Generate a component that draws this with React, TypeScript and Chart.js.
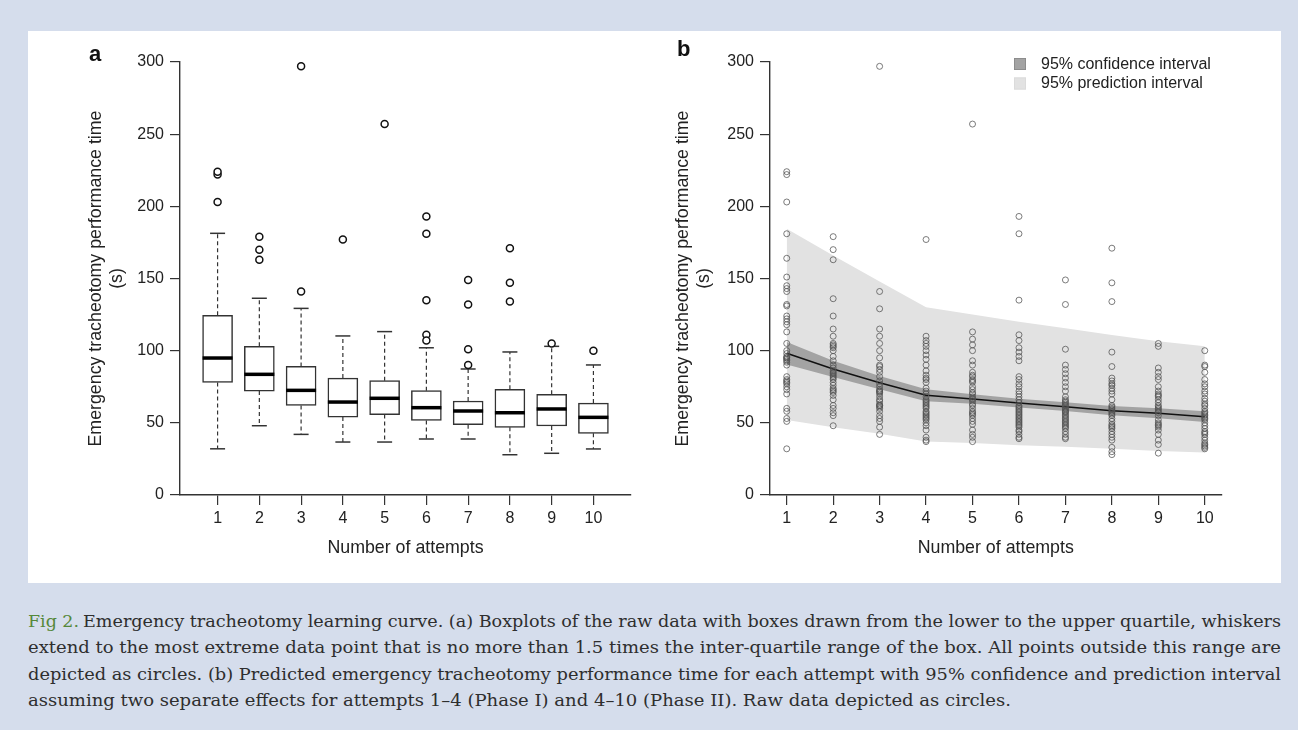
import React, { useEffect, useRef } from 'react';
import { Chart, registerables } from 'chart.js';

Chart.register(...registerables);

// ---------- data ----------
const attempts = [1, 2, 3, 4, 5, 6, 7, 8, 9, 10];
const yTickValues = [0, 50, 100, 150, 200, 250, 300];
const yTitle = ['Emergency tracheotomy performance time', '(s)'];
const xTitle = 'Number of attempts';

// Panel a: boxplot statistics
const boxQ1 = [78, 72, 62, 54, 55.7, 51.7, 48.7, 46.9, 47.8, 42.7];
const boxMedian = [94.9, 83.6, 72.5, 64.4, 67, 60.5, 58.2, 57, 59.6, 53.8];
const boxQ3 = [124.5, 103, 89.1, 81, 79.2, 72.3, 65.1, 73.2, 69.8, 63.7];
const whiskerLow = [32, 48, 42, 36.7, 36.7, 38.8, 38.8, 27.9, 28.9, 31.9];
const whiskerHigh = [181.3, 136.3, 129.3, 110.2, 113.2, 102, 87.3, 99.1, 103, 90.1];
const outliers = [
  [203, 222, 224],
  [179, 170, 163],
  [297, 141],
  [177],
  [257],
  [193, 181, 135, 111, 107],
  [149, 132, 101, 90],
  [171, 147, 134],
  [105],
  [100],
];

// Panel b: model fit and intervals
const fitLine = [98.2, 87.3, 77.8, 69.1, 66.5, 63.7, 61.2, 58.4, 56.6, 54.3];
const ciUpper = [106, 93, 82.5, 73.3, 69.8, 66.7, 64.2, 61.6, 60.1, 58.1];
const ciLower = [90.5, 81.8, 73.3, 64.9, 63.2, 60.7, 58.2, 55.2, 53.1, 50.5];
const piUpper = [184.5, 166, 148, 130, 125, 120, 115.5, 110.8, 106.5, 103];
const piLower = [52, 47, 42.5, 37, 36, 34.5, 33.5, 32, 30.5, 29.5];
const ciLabel = '95% confidence interval';
const piLabel = '95% prediction interval';

// Panel b: raw data per attempt
const rawAttempt1 = [224, 222, 203, 181, 164, 151, 145, 143, 141, 132, 131, 124, 122, 120, 118, 113, 105, 100, 98, 96, 95, 95, 94, 93, 92, 90, 82, 80, 79, 78, 77, 75, 73, 70, 60, 58, 53, 51, 32];
const rawAttempt2 = [179, 170, 163, 136, 124, 115, 110, 105, 104, 103, 102, 100, 96, 93, 90, 88, 86, 85, 84, 83, 82, 81, 80, 78, 76, 74, 73, 72, 71, 69, 66, 62, 60, 57, 55, 48];
const rawAttempt3 = [297, 141, 129, 115, 110, 105, 100, 95, 90, 89, 87, 85, 82, 79, 77, 75, 73, 72, 72, 71, 70, 68, 66, 65, 63, 62, 62, 61, 60, 58, 55, 53, 51, 47, 42];
const rawAttempt4 = [177, 110, 107, 105, 103, 100, 97, 94, 90, 86, 83, 81, 80, 78, 74, 72, 70, 68, 66, 65, 64, 63, 62, 61, 60, 58, 57, 56, 55, 54, 53, 52, 50, 48, 45, 40, 38, 37];
const rawAttempt5 = [257, 113, 108, 104, 100, 93, 90, 85, 83, 82, 80, 79, 78, 75, 73, 71, 70, 68, 67, 66, 65, 63, 62, 60, 58, 57, 56, 55, 53, 51, 49, 45, 42, 40, 37];
const rawAttempt6 = [193, 181, 135, 111, 107, 102, 99, 96, 93, 82, 80, 77, 75, 72, 70, 68, 66, 64, 62, 61, 60, 59, 58, 57, 56, 55, 54, 53, 52, 51, 50, 49, 48, 47, 45, 44, 42, 40, 39];
const rawAttempt7 = [149, 132, 101, 90, 87, 84, 81, 78, 75, 72, 68, 66, 65, 64, 63, 62, 61, 60, 59, 58, 58, 57, 56, 55, 54, 53, 52, 51, 50, 49, 48, 47, 46, 44, 42, 40, 39];
const rawAttempt8 = [171, 147, 134, 99, 89, 81, 79, 77, 76, 74, 72, 70, 66, 62, 61, 60, 59, 58, 57, 56, 55, 53, 51, 49, 48, 47, 46, 44, 42, 40, 38, 33, 30, 28];
const rawAttempt9 = [105, 103, 88, 85, 82, 80, 75, 72, 70, 69, 68, 66, 64, 62, 61, 60, 59, 58, 57, 55, 52, 50, 49, 48, 47, 45, 42, 38, 35, 29];
const rawAttempt10 = [100, 90, 89, 85, 80, 77, 75, 72, 70, 67, 65, 63, 62, 60, 58, 57, 56, 55, 54, 53, 52, 50, 48, 46, 44, 43, 42, 40, 38, 36, 35, 34, 33, 32];
const rawData = [rawAttempt1, rawAttempt2, rawAttempt3, rawAttempt4, rawAttempt5, rawAttempt6, rawAttempt7, rawAttempt8, rawAttempt9, rawAttempt10];

const captionPrefix = 'Fig 2.';
const captionLines = [
  'Emergency tracheotomy learning curve. (a) Boxplots of the raw data with boxes drawn from the lower to the upper quartile, whiskers',
  'extend to the most extreme data point that is no more than 1.5 times the inter-quartile range of the box. All points outside this range are',
  'depicted as circles. (b) Predicted emergency tracheotomy performance time for each attempt with 95% confidence and prediction interval',
  'assuming two separate effects for attempts 1\u20134 (Phase I) and 4\u201310 (Phase II). Raw data depicted as circles.',
];

// ---------- styling helpers ----------
const FONT = '"Liberation Sans", Arial, Helvetica, sans-serif';
const SERIF = '"DejaVu Serif", "Liberation Serif", serif';
const AXIS_COLOR = '#333';
const TEXT_COLOR = '#222';
// caption layout: [x start, width] per line
const captionBoxes = [
  [83, 1198],
  [28, 1253],
  [28, 1253],
  [28, 983],
];

function yAxis(width: number) {
  return {
    type: 'linear',
    position: 'left',
    min: 0,
    max: 300,
    afterBuildTicks: (s: any) => {
      s.ticks = yTickValues.map((v) => ({ value: v }));
    },
    afterFit: (s: any) => {
      s.width = width;
    },
    grid: { display: true, drawOnChartArea: false, drawTicks: true, tickLength: 10, color: AXIS_COLOR, lineWidth: 1.2 },
    border: { display: true, color: AXIS_COLOR, width: 1.4 },
    ticks: { padding: 6, color: TEXT_COLOR, font: { family: FONT, size: 16 } },
    title: {
      display: true,
      text: yTitle,
      color: TEXT_COLOR,
      font: { family: FONT, size: 17.8 },
      padding: { top: 7.3, bottom: 0 },
    },
  };
}

function xAxis(min: number, max: number) {
  return {
    type: 'linear',
    position: 'bottom',
    min,
    max,
    offset: false,
    afterBuildTicks: (s: any) => {
      s.ticks = attempts.map((v) => ({ value: v }));
    },
    afterFit: (s: any) => {
      s.height = 68;
    },
    grid: { display: true, drawOnChartArea: false, drawTicks: true, tickLength: 10, color: AXIS_COLOR, lineWidth: 1.2, offset: false },
    border: { display: true, color: AXIS_COLOR, width: 1.4 },
    ticks: { padding: 4, color: TEXT_COLOR, autoSkip: false, maxRotation: 0, font: { family: FONT, size: 16 } },
    title: {
      display: true,
      text: xTitle,
      color: TEXT_COLOR,
      font: { family: FONT, size: 17.8 },
      padding: { top: 0, bottom: 4.5 },
    },
  };
}

const legendPlugin = {
  id: 'bandLegend',
  afterDraw(chart: any) {
    const ctx = chart.ctx;
    const items = chart.data.datasets.filter((d: any) => d.fill === '+1');
    const x0 = 364;
    const y0 = 27;
    const step = 19.5;
    ctx.save();
    items.forEach((d: any, i: number) => {
      const y = y0 + i * step;
      ctx.fillStyle = d.backgroundColor;
      ctx.fillRect(x0, y, 12, 12);
      ctx.strokeStyle = d.legendBorder;
      ctx.lineWidth = 0.8;
      ctx.strokeRect(x0 + 0.4, y + 0.4, 11.2, 11.2);
      ctx.fillStyle = TEXT_COLOR;
      ctx.font = `16px ${FONT}`;
      ctx.textAlign = 'left';
      ctx.textBaseline = 'middle';
      ctx.fillText(d.label, x0 + 27, y + 6.5);
    });
    ctx.restore();
  },
};

export default function App() {
  const aRef = useRef<HTMLCanvasElement | null>(null);
  const bRef = useRef<HTMLCanvasElement | null>(null);

  useEffect(() => {
    const whiskerData = attempts.flatMap((x, i) => [
      { x, y: boxQ3[i] },
      { x, y: whiskerHigh[i] },
      { x, y: null },
      { x, y: boxQ1[i] },
      { x, y: whiskerLow[i] },
      { x, y: null },
    ]);
    const capData = attempts.flatMap((x, i) => [
      { x, y: whiskerHigh[i] },
      { x, y: whiskerLow[i] },
    ]);
    const outlierData = attempts.flatMap((x, i) => outliers[i].map((y) => ({ x, y })));

    const chartA = new Chart(aRef.current as HTMLCanvasElement, {
      type: 'scatter',
      data: {
        datasets: [
          {
            type: 'line',
            label: 'whiskers',
            data: whiskerData,
            borderColor: AXIS_COLOR,
            borderWidth: 1.2,
            borderDash: [4, 3],
            pointRadius: 0,
            spanGaps: false,
            fill: false,
            order: 6,
          },
          {
            type: 'bar',
            label: 'box',
            data: attempts.map((x, i) => ({ x, y: [boxQ1[i], boxQ3[i]] })),
            backgroundColor: '#ffffff',
            borderColor: AXIS_COLOR,
            borderWidth: 1.5,
            borderSkipped: false,
            barThickness: 30,
            order: 5,
          },
          {
            type: 'scatter',
            label: 'caps',
            data: capData,
            pointStyle: 'line',
            pointRadius: 7.5,
            pointHoverRadius: 7.5,
            pointBorderWidth: 1.5,
            pointBorderColor: AXIS_COLOR,
            order: 3,
          },
          {
            type: 'scatter',
            label: 'median',
            data: attempts.map((x, i) => ({ x, y: boxMedian[i] })),
            pointStyle: 'line',
            pointRadius: 15,
            pointHoverRadius: 15,
            pointBorderWidth: 3.5,
            pointBorderColor: '#000',
            order: 2,
          },
          {
            type: 'scatter',
            label: 'outliers',
            data: outlierData,
            pointStyle: 'circle',
            pointRadius: 3.5,
            pointHoverRadius: 3.5,
            pointBorderWidth: 1.5,
            pointBorderColor: '#111',
            pointBackgroundColor: '#fff',
            clip: false,
            order: 1,
          },
        ],
      } as any,
      options: {
        responsive: false,
        animation: false,
        devicePixelRatio: 1,
        events: [],
        layout: { padding: { left: 50, top: 31, right: 19, bottom: 20 } },
        plugins: { legend: { display: false }, tooltip: { enabled: false } },
        scales: { x: xAxis(0.1, 10.9), y: yAxis(102) } as any,
      },
    });

    const pointData = attempts.flatMap((x, i) => rawData[i].map((y) => ({ x, y })));

    const chartB = new Chart(bRef.current as HTMLCanvasElement, {
      type: 'scatter',
      data: {
        datasets: [
          {
            type: 'line',
            label: ciLabel,
            data: attempts.map((x, i) => ({ x, y: ciUpper[i] })),
            fill: '+1',
            backgroundColor: '#a3a3a3',
            legendBorder: '#888888',
            borderColor: 'rgba(0,0,0,0)',
            borderWidth: 1,
            pointRadius: 0,
            order: 4,
          },
          {
            type: 'line',
            label: 'ci lower',
            data: attempts.map((x, i) => ({ x, y: ciLower[i] })),
            fill: false,
            borderColor: 'rgba(0,0,0,0)',
            borderWidth: 1,
            pointRadius: 0,
            order: 4,
          },
          {
            type: 'line',
            label: piLabel,
            data: attempts.map((x, i) => ({ x, y: piUpper[i] })),
            fill: '+1',
            backgroundColor: '#e2e2e2',
            legendBorder: '#dadada',
            borderColor: 'rgba(0,0,0,0)',
            borderWidth: 1,
            pointRadius: 0,
            order: 5,
          },
          {
            type: 'line',
            label: 'pi lower',
            data: attempts.map((x, i) => ({ x, y: piLower[i] })),
            fill: false,
            borderColor: 'rgba(0,0,0,0)',
            borderWidth: 1,
            pointRadius: 0,
            order: 5,
          },
          {
            type: 'line',
            label: 'fit',
            data: attempts.map((x, i) => ({ x, y: fitLine[i] })),
            fill: false,
            borderColor: '#111',
            borderWidth: 1.5,
            pointRadius: 0,
            tension: 0,
            order: 2,
          },
          {
            type: 'scatter',
            label: 'raw',
            data: pointData,
            pointStyle: 'circle',
            pointRadius: 3,
            pointHoverRadius: 3,
            pointBorderWidth: 1,
            pointBorderColor: 'rgba(80,80,80,0.75)',
            pointBackgroundColor: 'rgba(0,0,0,0)',
            clip: false,
            order: 1,
          },
        ],
      } as any,
      options: {
        responsive: false,
        animation: false,
        devicePixelRatio: 1,
        events: [],
        layout: { padding: { left: 15, top: 31, right: 59.5, bottom: 20 } },
        plugins: { legend: { display: false }, tooltip: { enabled: false } },
        scales: { x: xAxis(0.64, 10.36), y: yAxis(105) } as any,
      },
      plugins: [legendPlugin],
    });

    return () => {
      chartA.destroy();
      chartB.destroy();
    };
  }, []);

  const panelLabel: React.CSSProperties = {
    position: 'absolute',
    fontFamily: FONT,
    fontWeight: 'bold',
    fontSize: 22,
    lineHeight: '22px',
    color: '#111',
  };

  return (
    <div
      style={{
        position: 'absolute',
        left: 0,
        top: 0,
        width: 1298,
        height: 730,
        background: '#d5ddec',
        overflow: 'hidden',
      }}
    >
      <div style={{ position: 'absolute', left: 28, top: 31, width: 1253, height: 552, background: '#ffffff' }} />
      <canvas ref={aRef} width={622} height={552} style={{ position: 'absolute', left: 28, top: 31, width: 622, height: 552 }} />
      <canvas ref={bRef} width={631} height={552} style={{ position: 'absolute', left: 650, top: 31, width: 631, height: 552 }} />
      <div style={{ ...panelLabel, left: 89, top: 43 }}>a</div>
      <div style={{ ...panelLabel, left: 677, top: 38 }}>b</div>
      <svg width={1298} height={147} style={{ position: 'absolute', left: 0, top: 583, display: 'block' }}>
        <text
          x={28}
          y={43.8}
          textLength={51}
          lengthAdjust="spacingAndGlyphs"
          fontFamily={SERIF}
          fontSize={16}
          fill="#55883a"
        >
          {captionPrefix}
        </text>
        {captionLines.map((line, i) => (
          <text
            key={i}
            x={captionBoxes[i][0]}
            y={43.8 + i * 26.5}
            textLength={captionBoxes[i][1]}
            lengthAdjust="spacingAndGlyphs"
            fontFamily={SERIF}
            fontSize={16}
            fill="#2e2e2e"
          >
            {line}
          </text>
        ))}
      </svg>
    </div>
  );
}
